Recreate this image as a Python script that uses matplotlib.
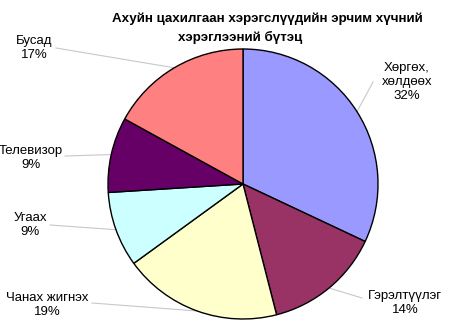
import matplotlib
matplotlib.use("Agg")
import matplotlib.pyplot as plt
import numpy as np

plt.rcParams['font.family'] = ['Liberation Sans', 'DejaVu Sans']

categories = ["Хөргөх,\nхөлдөөх", "Гэрэлтүүлэг", "Чанах жигнэх", "Угаах", "Телевизор", "Бусад"]
values = [32, 14, 19, 9, 9, 17]
colors = ["#9999FF", "#993366", "#FFFFCC", "#CCFFFF", "#660066", "#FF8080"]
title_lines = ["Ахуйн цахилгаан хэрэгслүүдийн эрчим хүчний", "хэрэглээний бүтэц"]

W, H = 462, 335
fig = plt.figure(figsize=(W / 100, H / 100), dpi=100)
ax = fig.add_axes([0, 0, 1, 1])

cx, cy, R = 243, H - 184, 135
wedges, _ = ax.pie(values, colors=colors, startangle=90, counterclock=False,
                   center=(cx, cy), radius=R, frame=True,
                   wedgeprops=dict(edgecolor='black', linewidth=1.0))
ax.set_xlim(0, W)
ax.set_ylim(0, H)
ax.axis('off')

# label text centers (pixel coords, y up) and leader line end points
label_pos = [(407, H - 82), (405, H - 303), (47, H - 305), (30, H - 225), (31, H - 158), (34, H - 48)]
line_end = [(373, H - 82), (362, H - 298), (92, H - 303), (50, H - 225), (65, H - 156), (56, H - 48)]

for w, lab, v, lp, le in zip(wedges, categories, values, label_pos, line_end):
    ang = np.deg2rad((w.theta1 + w.theta2) / 2)
    px, py = cx + R * np.cos(ang), cy + R * np.sin(ang)
    ax.plot([px, le[0]], [py, le[1]], color='#c8c8c8', linewidth=0.8, zorder=0.5)
    ax.text(lp[0], lp[1], f"{lab}\n{v}%", ha='center', va='center', fontsize=9.5,
            color='black', linespacing=1.2)

ax.text(267, H - 19, title_lines[0], ha='center', va='center', fontsize=9.6,
        fontweight='bold')
ax.text(240, H - 37, title_lines[1], ha='center', va='center', fontsize=9.6,
        fontweight='bold')

fig.savefig("out.png", dpi=100)
